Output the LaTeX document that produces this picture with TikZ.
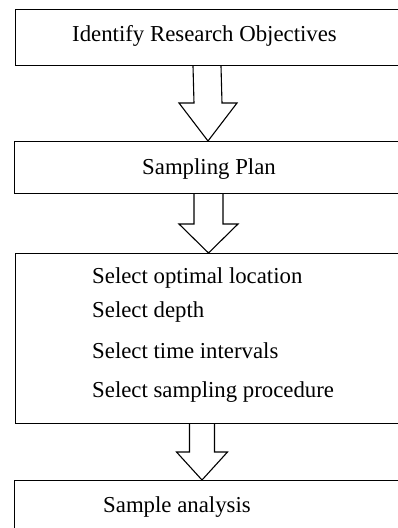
\documentclass[tikz,border=0pt]{standalone}
\usepackage{fontspec}
\setmainfont{Liberation Serif}
\usetikzlibrary{calc}
\tikzset{
  box/.style={draw=black, line width=1.1pt, minimum width=420pt, anchor=north west, inner sep=0pt},
  lbl/.style={anchor=base west, inner sep=0pt, font=\fontsize{22.8}{26}\selectfont},
  blockarrow/.style={draw=black, line width=1.1pt, fill=white, line join=miter}
}
\newcommand{\blockarr}[5]{% start, tip, shaft half, head half, head length
  \draw[blockarrow] ($(#1)+(-#3,0)$) -- ($(#2)+(-#3,-#5)$) -- ($(#2)+(-#4,-#5)$) -- (#2)
    -- ($(#2)+(#4,-#5)$) -- ($(#2)+(#3,-#5)$) -- ($(#1)+(#3,0)$);}
\begin{document}
\begin{tikzpicture}[x=1pt,y=-1pt]
\useasboundingbox (0,0) rectangle (398,528);
\clip (0,0) rectangle (398,528);
% boxes
\node[box, minimum height=56pt] (b1) at (15,9) {};
\node[box, minimum height=52pt] (b2) at (14,141) {};
\node[box, minimum height=170pt] (b3) at (15,253) {};
\node[box, minimum height=80pt] (b4) at (14,480) {};
% texts
\node[lbl] (t1) at (72,41) {Identify Research Objectives};
\node[lbl] (t2) at (142,174) {Sampling Plan};
\node[lbl] (t3) at (92,283) {Select optimal location};
\node[lbl] (t4) at (92,317) {Select depth};
\node[lbl] (t5) at (92,358) {Select time intervals};
\node[lbl] (t6) at (92,397) {Select sampling procedure};
\node[lbl] (t7) at (103,512) {Sample analysis};
% arrow anchors
\coordinate (s1) at (b1.south -| 207,0);
\coordinate (e1) at (b2.north -| 208,0);
\coordinate (s2) at (b2.south -| 208.5,0);
\coordinate (e2) at (b3.north -| 208.5,0);
\coordinate (s3) at (b3.south -| 202,0);
\coordinate (e3) at (b4.north -| 202,0);
\blockarr{s1}{e1}{14}{29}{38}
\blockarr{s2}{e2}{14.5}{29.5}{29}
\blockarr{s3}{e3}{12.5}{25.5}{28}
\end{tikzpicture}
\end{document}
